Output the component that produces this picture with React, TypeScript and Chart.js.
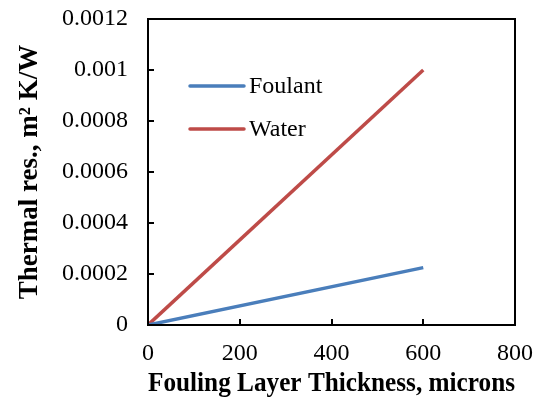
import React, { useEffect, useRef } from "react";
import { Chart, registerables } from "chart.js";

Chart.register(...registerables);

const thickness = [0, 600];
const foulant = [0, 0.000225];
const water = [0, 0.001];
const seriesNames = ["Foulant", "Water"];
const seriesColors = ["#4a7ebb", "#be4b48"];
const xTicks = [0, 200, 400, 600, 800];
const yTicks = [0, 0.0002, 0.0004, 0.0006, 0.0008, 0.001, 0.0012];

const SERIF = "'Liberation Serif', 'Times New Roman', serif";

const framePlugin = {
  id: "frame",
  afterDatasetsDraw(chart: any) {
    const { ctx, chartArea: a, scales } = chart;
    ctx.save();
    ctx.strokeStyle = "#000";
    ctx.lineWidth = 2;
    ctx.strokeRect(a.left, a.top, a.right - a.left, a.bottom - a.top);
    for (const v of yTicks) {
      const y = Math.round(scales.y.getPixelForValue(v));
      ctx.beginPath();
      ctx.moveTo(a.left, y);
      ctx.lineTo(a.left + 6, y);
      ctx.stroke();
    }
    for (const v of xTicks) {
      const x = Math.round(scales.x.getPixelForValue(v));
      ctx.beginPath();
      ctx.moveTo(x, a.bottom);
      ctx.lineTo(x, a.bottom - 6);
      ctx.stroke();
    }
    // legend
    ctx.font = `24px ${SERIF}`;
    ctx.textBaseline = "middle";
    chart.data.datasets.forEach((ds: any, i: number) => {
      const y = a.top + 67 + i * 43;
      const x0 = a.left + 42;
      ctx.strokeStyle = ds.borderColor;
      ctx.lineWidth = 3.5;
      ctx.lineCap = "round";
      ctx.beginPath();
      ctx.moveTo(x0, y);
      ctx.lineTo(x0 + 54, y);
      ctx.stroke();
      ctx.fillStyle = "#000";
      ctx.fillText(ds.label, x0 + 59, y + 1);
    });
    ctx.restore();
  },
};

export default function App() {
  const ref = useRef<HTMLCanvasElement>(null);
  useEffect(() => {
    document.body.style.margin = "0";
    const chart = new Chart(ref.current!, {
      type: "scatter",
      data: {
        datasets: [
          {
            label: seriesNames[0],
            data: thickness.map((x, i) => ({ x, y: foulant[i] })),
            borderColor: seriesColors[0],
            backgroundColor: seriesColors[0],
            showLine: true,
            pointRadius: 0,
            borderWidth: 3.5,
          },
          {
            label: seriesNames[1],
            data: thickness.map((x, i) => ({ x, y: water[i] })),
            borderColor: seriesColors[1],
            backgroundColor: seriesColors[1],
            showLine: true,
            pointRadius: 0,
            borderWidth: 3.5,
          },
        ],
      },
      options: {
        animation: false,
        responsive: false,
        layout: { padding: { left: 0, top: 19, right: 25, bottom: 0 } },
        plugins: { legend: { display: false }, tooltip: { enabled: false } },
        scales: {
          x: {
            type: "linear",
            min: 0,
            max: 800,
            afterBuildTicks: (s: any) => {
              s.ticks = xTicks.map((v) => ({ value: v }));
            },
            afterFit: (s: any) => {
              s.height = 76;
              s.paddingLeft = 0;
              s.paddingRight = 0;
            },
            grid: { display: false, drawTicks: false },
            border: { display: false },
            ticks: {
              color: "#000",
              font: { family: SERIF, size: 24 },
              padding: 14,
              maxRotation: 0,
            },
            title: {
              display: true,
              text: "Fouling Layer Thickness, microns",
              color: "#000",
              font: { family: SERIF, size: 28, weight: "bold" },
              padding: { top: 0, bottom: 0 },
            },
          },
          y: {
            type: "linear",
            min: 0,
            max: 0.0012,
            afterBuildTicks: (s: any) => {
              s.ticks = yTicks.map((v) => ({ value: v }));
            },
            afterFit: (s: any) => {
              s.width = 148;
              s.paddingTop = 0;
              s.paddingBottom = 0;
            },
            grid: { display: false, drawTicks: false },
            border: { display: false },
            ticks: {
              color: "#000",
              font: { family: SERIF, size: 24 },
              padding: 20,
              callback: (v: any) => String(Number(v)),
            },
            title: {
              display: true,
              text: "Thermal res., m² K/W",
              color: "#000",
              font: { family: SERIF, size: 27, weight: "bold" },
              padding: { top: 14, bottom: 0 },
            },
          },
        },
      },
      plugins: [framePlugin],
    } as any);
    return () => chart.destroy();
  }, []);
  return (
    <div style={{ position: "absolute", left: 0, top: 0, width: 540, height: 401, background: "#fff" }}>
      <canvas ref={ref} width={540} height={401} />
    </div>
  );
}
